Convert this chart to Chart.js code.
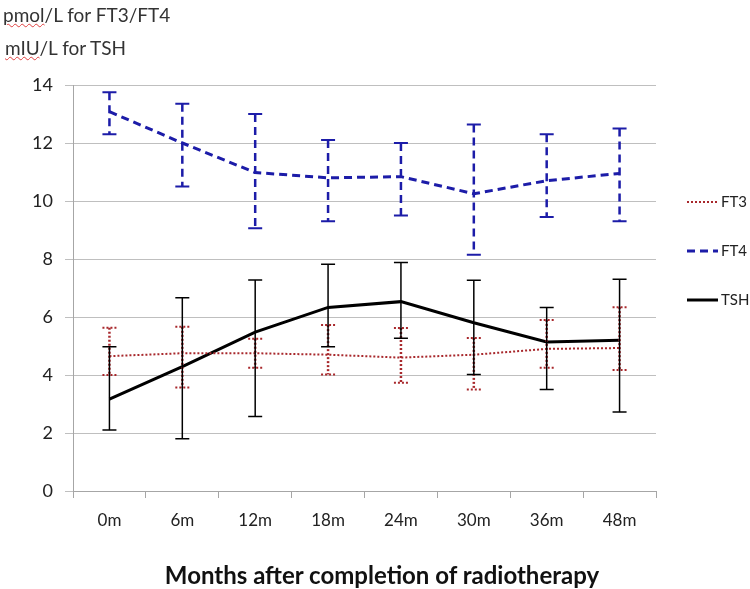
<!DOCTYPE html>
<html>
<head>
<meta charset="utf-8">
<script src="https://cdn.jsdelivr.net/npm/chart.js@4"></script>
<style>
  body { margin: 0; background: #fff; }
  #wrap { position: relative; width: 750px; height: 589px; }
  .unit { position: absolute; left: 3px; font: 19px Lato, sans-serif; color: #333; white-space: nowrap; }
  .sq { text-decoration: underline wavy #e04040; text-decoration-thickness: 1px; }
  #xtitle { position: absolute; left: 0; width: 764px; top: 560px; text-align: center;
            font: bold 24px Lato, sans-serif; color: #111; }
</style>
</head>
<body>
<div id="wrap">
  <canvas id="chart"></canvas>
  <div class="unit" style="top:3px"><span class="sq">pmol</span>/L for FT3/FT4</div>
  <div class="unit" style="top:36px;left:5px"><span class="sq">mIU</span>/L for TSH</div>
  <div id="xtitle">Months after completion of radiotherapy</div>
</div>
<script>
const months = ['0m', '6m', '12m', '18m', '24m', '30m', '36m', '48m']
const yTicks = [0, 2, 4, 6, 8, 10, 12, 14]

const ft3 = [4.65, 4.75, 4.75, 4.7, 4.6, 4.7, 4.9, 4.93]
const ft3Upper = [5.63, 5.66, 5.25, 5.72, 5.62, 5.28, 5.9, 6.34]
const ft3Lower = [4.0, 3.57, 4.25, 4.02, 3.73, 3.5, 4.25, 4.17]

const ft4 = [13.08, 12.0, 10.98, 10.8, 10.84, 10.25, 10.7, 10.95]
const ft4Upper = [13.75, 13.35, 13.0, 12.1, 12.0, 12.64, 12.3, 12.5]
const ft4Lower = [12.3, 10.5, 9.06, 9.3, 9.5, 8.15, 9.45, 9.3]

const tsh = [3.17, 4.29, 5.48, 6.33, 6.53, 5.8, 5.14, 5.2]
const tshUpper = [4.97, 6.66, 7.28, 7.82, 7.88, 7.27, 6.33, 7.3]
const tshLower = [2.1, 1.8, 2.57, 4.97, 5.27, 4.02, 3.5, 2.72]

Chart.defaults.font.family = 'Lato, sans-serif'

// error bars, drawn with the chart's own scales
const errorBars = {
  id: 'errorBars',
  afterDatasetsDraw(chart) {
    const { ctx, scales: { x, y } } = chart
    chart.data.datasets.forEach((ds) => {
      ctx.save()
      ctx.strokeStyle = ds.borderColor
      ds.data.forEach((v, j) => {
        const px = x.getPixelForValue(j)
        const top = y.getPixelForValue(ds.upper[j])
        const bot = y.getPixelForValue(ds.lower[j])
        ctx.lineWidth = ds.errWidth
        ctx.setLineDash(ds.borderDash || [])
        ctx.beginPath()
        ctx.moveTo(px, top); ctx.lineTo(px, bot)
        ctx.stroke()
        ctx.setLineDash(ds.capDash || [])
        ctx.lineWidth = ds.capWidth
        ctx.beginPath()
        ctx.moveTo(px - 7, top); ctx.lineTo(px + 7, top)
        ctx.moveTo(px - 7, bot); ctx.lineTo(px + 7, bot)
        ctx.stroke()
      })
      ctx.restore()
    })
  }
}

const sideLegend = {
  id: 'sideLegend',
  afterDraw(chart) {
    const { ctx } = chart
    const ys = [202, 251, 300]
    chart.data.datasets.forEach((ds, i) => {
      ctx.save()
      ctx.strokeStyle = ds.borderColor
      ctx.lineWidth = ds.borderWidth
      ctx.setLineDash(ds.borderDash || [])
      ctx.beginPath()
      ctx.moveTo(687, ys[i]); ctx.lineTo(718, ys[i])
      ctx.stroke()
      ctx.setLineDash([])
      ctx.fillStyle = '#222'
      ctx.font = '15px Lato, sans-serif'
      ctx.textBaseline = 'middle'
      ctx.fillText(ds.label, 721, ys[i])
      ctx.restore()
    })
  }
}

new Chart(document.getElementById('chart'), {
  type: 'line',
  data: {
    labels: months,
    datasets: [{
      label: 'FT3',
      data: ft3,
      upper: ft3Upper,
      lower: ft3Lower,
      borderColor: '#a8282c',
      borderWidth: 2,
      errWidth: 2.5,
      capWidth: 2,
      borderDash: [2, 2],
      capDash: [2, 2],
      pointRadius: 0,
      tension: 0
    }, {
      label: 'FT4',
      data: ft4,
      upper: ft4Upper,
      lower: ft4Lower,
      borderColor: '#1c1ca8',
      borderWidth: 3,
      errWidth: 2.5,
      capWidth: 2,
      borderDash: [8, 5],
      pointRadius: 0,
      tension: 0
    }, {
      label: 'TSH',
      data: tsh,
      upper: tshUpper,
      lower: tshLower,
      borderColor: '#000000',
      borderWidth: 3,
      errWidth: 1.5,
      capWidth: 1.5,
      pointRadius: 0,
      tension: 0
    }]
  },
  options: {
    responsive: true,
    maintainAspectRatio: false,
    animation: false,
    layout: { padding: { top: 85, right: 94, left: 0, bottom: 0 } },
    plugins: { legend: { display: false }, tooltip: { enabled: false } },
    scales: {
      x: {
        offset: true,
        grid: { offset: true, drawOnChartArea: false, tickLength: 7, color: '#a6a6a6' },
        border: { color: '#a6a6a6' },
        ticks: { padding: 12, color: '#222', font: { size: 17 } },
        afterFit(s) { s.height = 98 }
      },
      y: {
        min: 0,
        max: 14,
        afterBuildTicks(s) { s.ticks = yTicks.map(v => ({ value: v })) },
        ticks: { padding: 12, color: '#222', font: { size: 18 } },
        grid: { color: '#bfbfbf', tickLength: 8 },
        border: { color: '#a6a6a6' },
        afterFit(s) { s.width = 73 }
      }
    }
  },
  plugins: [errorBars, sideLegend]
})
</script>
</body>
</html>
